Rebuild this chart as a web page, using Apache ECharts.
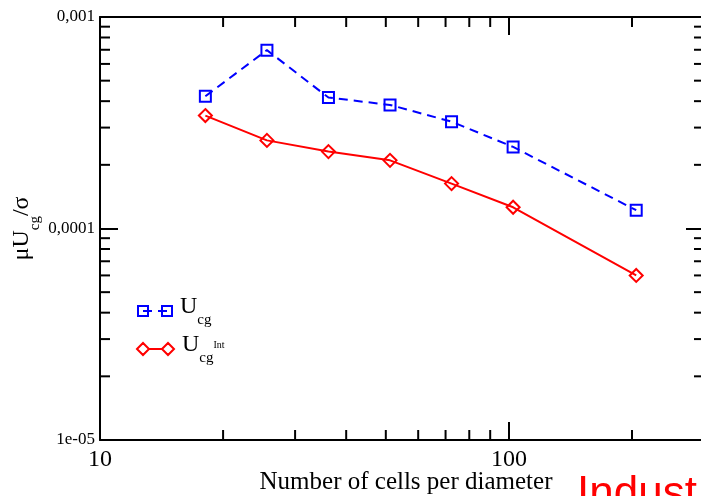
<!DOCTYPE html>
<html>
<head>
<meta charset="utf-8">
<script src="https://cdn.jsdelivr.net/npm/echarts@6/dist/echarts.min.js"></script>
<style>
  html, body { margin: 0; padding: 0; background: #fff; }
  #chart { width: 701px; height: 496px; }
</style>
</head>
<body>
<div id="chart"></div>
<script>
// cells per diameter
var cells = [18.1, 25.6, 36.2, 51.2, 72.4, 102.4, 204.8];
// mu*Ucg/sigma
var ucg = [4.22e-4, 6.97e-4, 4.16e-4, 3.84e-4, 3.20e-4, 2.43e-4, 1.22e-4];
var ucgInt = [3.42e-4, 2.61e-4, 2.31e-4, 2.10e-4, 1.63e-4, 1.26e-4, 6.0e-5];

var xMin = 10, xMax = 300;
var yMin = 1e-5, yMax = 1e-3;
var xMinorTicks = [20, 30, 40, 50, 60, 70, 80, 90, 200];
var yMinorTicks = [2e-5, 3e-5, 4e-5, 5e-5, 6e-5, 7e-5, 8e-5, 9e-5,
                   2e-4, 3e-4, 4e-4, 5e-4, 6e-4, 7e-4, 8e-4, 9e-4];
var xTickLabels = ["10", "100"];
var yTickLabels = ["1e-05", "0,0001", "0,001"];

var serif = "Liberation Serif";
var black = "#000";

var dom = document.getElementById("chart");
var myChart = echarts.init(dom, null, { renderer: "canvas" });

function frameAxis(pos) {
  return {
    type: "log",
    logBase: 10,
    position: pos,
    min: pos == "top" || pos == "bottom" ? xMin : yMin,
    max: pos == "top" || pos == "bottom" ? xMax : yMax,
    axisLine: { show: true, lineStyle: { color: black, width: 2 } },
    axisTick: { show: true, inside: true, length: 18, lineStyle: { color: black, width: 2 } },
    axisLabel: { show: false },
    splitLine: { show: false }
  };
}

var subRich = {
  u: { fontFamily: serif, fontSize: 24, lineHeight: 24, color: black, padding: [2, 0, 10, 3] },
  m: { fontFamily: serif, fontSize: 24, lineHeight: 24, color: black, padding: [0, 0, 12, 0] },
  s: { fontFamily: serif, fontSize: 15, lineHeight: 15, color: black, padding: [14, 0, 0, 0] },
  t: { fontFamily: serif, fontSize: 15, lineHeight: 15, color: black, padding: [19, 0, 0, 0] },
  p: { fontFamily: serif, fontSize: 10, lineHeight: 10, color: black, padding: [0, 0, 7, 0] }
};

var bottomAxis = frameAxis("bottom");
bottomAxis.axisLabel = {
  show: true,
  margin: 8,
  fontFamily: serif,
  fontSize: 24,
  color: black,
  showMaxLabel: false,
  formatter: function (v) {
    var e = Math.round(Math.log10(v));
    return xTickLabels[e - 1] || "";
  }
};
bottomAxis.name = "Number of cells per diameter";
bottomAxis.nameLocation = "middle";
bottomAxis.nameGap = 30;
bottomAxis.nameMoveOverlap = false;
bottomAxis.nameTextStyle = { fontFamily: serif, fontSize: 25, color: black, padding: [0, 0, 0, 8] };

var leftAxis = frameAxis("left");
leftAxis.axisLabel = {
  show: true,
  margin: 5,
  fontFamily: serif,
  fontSize: 17,
  color: black,
  formatter: function (v) {
    var e = Math.round(Math.log10(v));
    return yTickLabels[e + 5] || "";
  }
};
leftAxis.name = "{m|\u03bcU}{s|cg}{m|/\u03c3}";
leftAxis.nameLocation = "middle";
leftAxis.nameRotate = 90;
leftAxis.nameGap = 60;
leftAxis.nameMoveOverlap = false;
leftAxis.nameTextStyle = { rich: subRich };

var option = {
  animation: false,
  backgroundColor: "#fff",
  grid: { left: 100, top: 17, right: -3, bottom: 56, outerBoundsMode: "none", containLabel: false },
  xAxis: [bottomAxis, frameAxis("top")],
  yAxis: [leftAxis, frameAxis("right")],
  legend: [
    {
      orient: "vertical",
      left: 137,
      top: 293,
      padding: 0,
      itemWidth: 34,
      itemHeight: 10,
      symbolKeepAspect: false,
      data: [{
        name: "Ucg",
        icon: "path://M0,0 H10 V10 H0 Z M5,5 H14 M20,5 H29 M24,0 H34 V10 H24 Z",
        itemStyle: { color: "transparent", borderColor: "#0000ff", borderWidth: 2 }
      }],
      formatter: function () { return "{u|U}{t|cg}"; },
      textStyle: { rich: subRich }
    },
    {
      orient: "vertical",
      left: 136,
      top: 331,
      padding: 0,
      itemWidth: 37,
      itemHeight: 12,
      symbolKeepAspect: false,
      data: [{
        name: "UcgInt",
        icon: "path://M0,6 L6,0 L12,6 L6,12 Z M12,6 H25 M25,6 L31,0 L37,6 L31,12 Z",
        itemStyle: { color: "transparent", borderColor: "#ff0000", borderWidth: 2 }
      }],
      formatter: function () { return "{u|U}{t|cg}{p|Int}"; },
      textStyle: { rich: subRich }
    }
  ],
  graphic: [{
    type: "text",
    left: 577,
    top: 473,
    style: { text: "Indust", font: "44px 'Liberation Sans'", fill: "#ff0000" }
  }],
  series: [
    {
      name: "Ucg",
      type: "line",
      data: cells.map(function (c, i) { return [c, ucg[i]]; }),
      symbol: "rect",
      symbolSize: 11,
      lineStyle: { color: "#0000ff", width: 2, type: [9, 6] },
      itemStyle: { color: "transparent", borderColor: "#0000ff", borderWidth: 2 },
      emphasis: { disabled: true }
    },
    {
      name: "UcgInt",
      type: "line",
      data: cells.map(function (c, i) { return [c, ucgInt[i]]; }),
      symbol: "diamond",
      symbolSize: 13,
      lineStyle: { color: "#ff0000", width: 2 },
      itemStyle: { color: "transparent", borderColor: "#ff0000", borderWidth: 2 },
      emphasis: { disabled: true }
    },
    {
      // minor ticks on bottom/top
      type: "custom",
      silent: true,
      clip: false,
      data: xMinorTicks.map(function (v) { return [v, yMin]; }),
      renderItem: function (params, api) {
        var v = api.value(0);
        var b = api.coord([v, yMin]);
        var t = api.coord([v, yMax]);
        var st = { stroke: black, lineWidth: 2 };
        return {
          type: "group",
          children: [
            { type: "line", shape: { x1: b[0], y1: b[1], x2: b[0], y2: b[1] - 10 }, style: st },
            { type: "line", shape: { x1: t[0], y1: t[1], x2: t[0], y2: t[1] + 10 }, style: st }
          ]
        };
      }
    },
    {
      // minor ticks on left/right
      type: "custom",
      silent: true,
      clip: false,
      data: yMinorTicks.map(function (v) { return [xMin, v]; }),
      renderItem: function (params, api) {
        var v = api.value(1);
        var l = api.coord([xMin, v]);
        var r = api.coord([xMax, v]);
        var st = { stroke: black, lineWidth: 2 };
        return {
          type: "group",
          children: [
            { type: "line", shape: { x1: l[0], y1: l[1], x2: l[0] + 10, y2: l[1] }, style: st },
            { type: "line", shape: { x1: r[0], y1: r[1], x2: r[0] - 10, y2: r[1] }, style: st }
          ]
        };
      }
    }
  ]
};

myChart.setOption(option);
window.addEventListener("resize", myChart.resize);
</script>
</body>
</html>
